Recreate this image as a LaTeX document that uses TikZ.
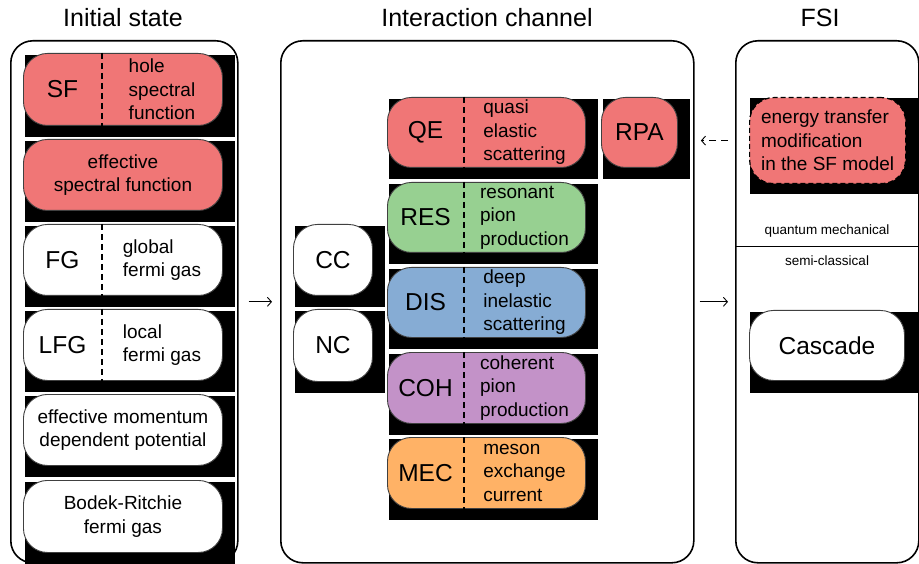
\documentclass[tikz,border=0pt]{standalone}
\usepackage{fontspec}
\setmainfont{Liberation Sans}
\usetikzlibrary{arrows.meta}
\definecolor{cred}{RGB}{240,118,118}
\definecolor{cgreen}{RGB}{151,208,145}
\definecolor{cblue}{RGB}{134,172,212}
\definecolor{cpurple}{RGB}{195,146,200}
\definecolor{corange}{RGB}{255,178,102}
\tikzset{
  panel/.style={draw=black, line width=1.6pt, rounded corners=22pt, inner sep=0pt},
  cbox/.style={draw=black!75, line width=0.9pt, rounded corners=24pt, inner sep=0pt},
  divider/.style={draw=black, line width=1.3pt, dash pattern=on 6pt off 4pt},
  bigtxt/.style={font=\fontsize{24.5}{29}\selectfont, inner sep=0pt},
  smalltxt/.style={font=\fontsize{19}{23.5}\selectfont, align=left, inner sep=0pt},
  ctrtxt/.style={font=\fontsize{19}{23.5}\selectfont, align=center, inner sep=0pt},
  tinytxt/.style={font=\fontsize{13.5}{16}\selectfont, inner sep=0pt},
  titletxt/.style={font=\fontsize{25}{30}\selectfont, inner sep=0pt},
  flowarr/.style={line width=0.9pt, -{Straight Barb[length=4pt,width=9pt]}},
}
\newcommand\shbox[6]{%
  \fill[black] (#2+1.5,#3+2) rectangle (#2+#4+13,#3+#5+12);
  \node[cbox, fill=#6, minimum width=#4pt, minimum height=#5pt, anchor=north west] (#1) at (#2,#3) {};
}
\begin{document}
\begin{tikzpicture}[x=1pt,y=-1pt]
\useasboundingbox (0,0) rectangle (919,564);
\fill[white] (0,0) rectangle (919,564);

% titles
\node[titletxt] (t1) at (123,18) {Initial state};
\node[titletxt] (t2) at (487,18) {Interaction channel};
\node[titletxt] (t3) at (820,18) {FSI};

% panels
\node[panel, minimum width=227pt, minimum height=522pt, anchor=north west] (init) at (10,40) {};
\node[panel, minimum width=413pt, minimum height=522pt, anchor=north west] (inter) at (280,40) {};
\node[panel, minimum width=183pt, minimum height=522pt, anchor=north west] (fsi) at (735,40) {};

% initial state boxes
\shbox{sf}{23}{53}{199}{72}{cred}
\shbox{esf}{23}{139}{199}{71}{cred}
\shbox{fg}{23}{224}{199}{71}{white}
\shbox{lfg}{23}{309}{199}{71}{white}
\shbox{emdp}{23}{394}{199}{71}{white}
\shbox{br}{23}{480}{199}{72}{white}

\foreach \n in {sf,fg,lfg}{
  \draw[divider] ([xshift=79pt]\n.north west) -- ([xshift=79pt]\n.south west);
}
\node[bigtxt] (sf-a) at ([xshift=39.5pt]sf.west) {SF};
\node[smalltxt] (sf-b) at ([xshift=139pt]sf.west) {hole\\spectral\\function};
\node[ctrtxt] (esf-a) at (esf.center) {effective\\spectral function};
\node[bigtxt] (fg-a) at ([xshift=39.5pt]fg.west) {FG};
\node[smalltxt] (fg-b) at ([xshift=139pt]fg.west) {global\\fermi gas};
\node[bigtxt] (lfg-a) at ([xshift=39.5pt]lfg.west) {LFG};
\node[smalltxt] (lfg-b) at ([xshift=139pt]lfg.west) {local\\fermi gas};
\node[ctrtxt] (emdp-a) at (emdp.center) {effective momentum\\dependent potential};
\node[ctrtxt] (br-a) at (br.center) {Bodek-Ritchie\\fermi gas};

% interaction channel boxes
\shbox{qe}{387}{97}{198}{70}{cred}
\shbox{rpa}{601}{97}{76}{70}{cred}
\shbox{res}{387}{182}{198}{70}{cgreen}
\shbox{dis}{387}{267}{198}{70}{cblue}
\shbox{coh}{387}{352}{198}{71}{cpurple}
\shbox{mec}{387}{437}{198}{71}{corange}
\shbox{cc}{293}{224}{79}{71}{white}
\shbox{nc}{293}{309}{79}{72}{white}

\foreach \n in {qe,res,dis,coh,mec}{
  \draw[divider] ([xshift=77pt]\n.north west) -- ([xshift=77pt]\n.south west);
}
\node[bigtxt] (qe-a) at ([xshift=38.5pt]qe.west) {QE};
\node[smalltxt] (qe-b) at ([xshift=137.5pt]qe.west) {quasi\\elastic\\scattering};
\node[bigtxt] (rpa-a) at (rpa.center) {RPA};
\node[bigtxt] (res-a) at ([xshift=38.5pt]res.west) {RES};
\node[smalltxt] (res-b) at ([xshift=137.5pt]res.west) {resonant\\pion\\production};
\node[bigtxt] (dis-a) at ([xshift=38.5pt]dis.west) {DIS};
\node[smalltxt] (dis-b) at ([xshift=137.5pt]dis.west) {deep\\inelastic\\scattering};
\node[bigtxt] (coh-a) at ([xshift=38.5pt]coh.west) {COH};
\node[smalltxt] (coh-b) at ([xshift=137.5pt]coh.west) {coherent\\pion\\production};
\node[bigtxt] (mec-a) at ([xshift=38.5pt]mec.west) {MEC};
\node[smalltxt] (mec-b) at ([xshift=137.5pt]mec.west) {meson\\exchange\\current};
\node[bigtxt] (cc-a) at (cc.center) {CC};
\node[bigtxt] (nc-a) at (nc.center) {NC};

% FSI
\fill[black] (750,98) rectangle (919,194);
\node[cbox, fill=cred, dash pattern=on 5pt off 3pt, line width=1.2pt, draw=black, minimum width=156pt, minimum height=86pt, anchor=north west] (etm) at (749,97) {};
\node[smalltxt] (etm-a) at (etm.center) {energy transfer\\modification\\in the SF model};
\fill[black] (750,312) rectangle (919,393);
\node[cbox, fill=white, minimum width=155pt, minimum height=70pt, anchor=north west] (cascade) at (749,310) {};
\node[bigtxt] (cascade-a) at (cascade.center) {Cascade};

\coordinate (qm1) at (735,247);
\coordinate (qm2) at (918,247);
\draw[line width=1pt] (qm1) -- (qm2);
\node[tinytxt] (qm-t) at (827,231) {quantum mechanical};
\node[tinytxt] (sc-t) at (827,261) {semi-classical};

% arrows
\draw[flowarr, shorten <=10pt, shorten >=8pt] (init.east) -- (inter.west);
\draw[flowarr, shorten <=5pt, shorten >=7pt] (inter.east) -- (fsi.west);
\draw[flowarr, dash pattern=on 7pt off 5pt, shorten <=21pt, shorten >=23pt] (etm.west) -- (etm.west -| rpa.east);
\end{tikzpicture}
\end{document}
